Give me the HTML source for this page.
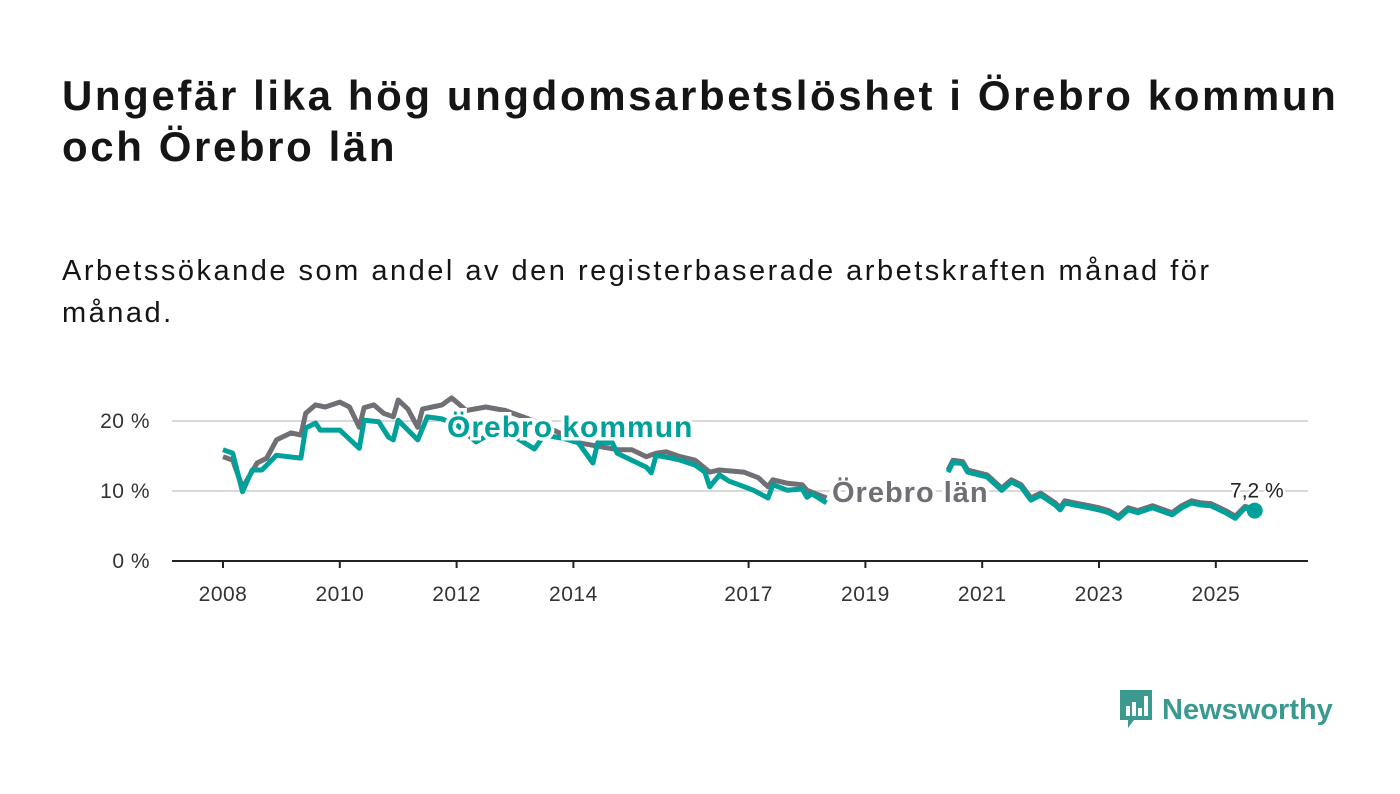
<!DOCTYPE html>
<html><head><meta charset="utf-8"><style>
body{margin:0;background:#fff;width:1400px;height:794px;overflow:hidden;font-family:"Liberation Sans",sans-serif}
.t{position:absolute;left:62px;top:70px;font-size:42px;letter-spacing:2.6px;font-weight:bold;color:#151515;line-height:51px;width:1320px}
.s{position:absolute;left:62px;top:250px;font-size:29px;letter-spacing:2.5px;color:#151515;line-height:42px;width:1240px}
</style></head><body>
<div class="t">Ungefär lika hög ungdomsarbetslöshet i Örebro kommun och Örebro län</div>
<div class="s">Arbetssökande som andel av den registerbaserade arbetskraften månad för månad.</div>
<svg id="c" width="1400" height="794" style="position:absolute;left:0;top:0"></svg>
<div style="position:absolute;left:1118px;top:688px;height:44px;display:flex;align-items:center">
<svg width="36" height="44"><path d="M2 2h32v30H16l-6 8v-8H2z" fill="#3a9a8f"/><rect x="8" y="18" width="4" height="10" fill="#fff"/><rect x="14" y="14" width="4" height="14" fill="#fff"/><rect x="20" y="20" width="4" height="8" fill="#fff"/><rect x="26" y="8" width="4" height="20" fill="#fff"/></svg>
<span style="font-size:29px;font-weight:bold;color:#3a9a8f;margin-left:8px">Newsworthy</span></div>
<script>
const yTicks=[0,10,20];
const yTickLabels=["0 %","10 %","20 %"];
const xTickYears=[2008,2010,2012,2014,2017,2019,2021,2023,2025];
const kommunMonths=[0,2,4,6,8,11,16,17,19,20,24,28,29,32,34,35,36,40,42,45,48,52,57,64,66,70,73,76,77,80,81,84,87,88,89,92,94,97,99,100,102,104,106,109,112,113,116,119,120,121,124,null,149,150,152,153,157,160,162,164,166,168,171,172,173,175,178,180,182,184,186,188,191,193,195,197,199,201,203,206,208,210,212];
const kommunValues=[15.9,15.4,9.9,13,13,15.1,14.7,19,19.7,18.7,18.7,16.1,20.1,19.9,17.7,17.3,20.1,17.3,20.6,20.3,19.5,17,19,16,18,17.5,16.9,14,16.9,16.9,15.4,14.4,13.4,12.6,15.1,14.7,14.4,13.7,12.7,10.6,12.3,11.4,10.9,10.1,9,10.9,10.1,10.3,9.1,9.6,8.3,null,12.7,14.1,13.9,12.7,12,10.1,11.3,10.6,8.7,9.4,8,7.3,8.3,8,7.6,7.3,6.9,6.1,7.3,6.9,7.6,7.1,6.6,7.6,8.3,8,7.9,6.9,6.1,7.6,7.2];
const lanMonths=[0,2,4,7,9,11,14,16,17,19,21,24,26,28,29,31,33,35,36,38,40,41,43,45,47,50,54,58,64,70,73,81,84,87,89,91,94,97,100,102,107,110,112,113,116,119,120,124,null,149,150,152,153,157,160,162,164,166,168,171,172,173,175,178,180,182,184,186,188,191,193,195,197,199,201,203,206,208,210,212];
const lanValues=[14.9,14.4,10.5,14,14.7,17.3,18.3,18,21.1,22.3,22,22.7,22,19.1,21.9,22.3,21.1,20.6,23,21.7,19.1,21.7,22,22.3,23.3,21.5,22,21.5,20,18,16.9,15.9,15.9,14.9,15.4,15.6,14.9,14.4,12.7,13,12.7,11.9,10.6,11.6,11.1,10.9,10.1,9,null,13,14.4,14.2,13,12.3,10.4,11.6,10.9,9,9.7,8.3,7.6,8.6,8.3,7.9,7.6,7.2,6.4,7.6,7.2,7.9,7.4,6.9,7.9,8.6,8.3,8.2,7.2,6.4,7.8,7.4];
const lastLabel="7,2 %";
const NS="http://www.w3.org/2000/svg",svg=document.getElementById('c');
const X=m=>223+m*58.4/12, Y=v=>561-v*7;
function mk(t,a,p){const e=document.createElementNS(NS,t);for(const k in a)e.setAttribute(k,a[k]);(p||svg).appendChild(e);return e;}
yTicks.forEach((v,i)=>{
 if(v>0){const g=mk('line',{x1:172,x2:1308,y1:Y(v),y2:Y(v),stroke:'#d9d9d9','stroke-width':2});
 
 }
 const t=mk('text',{x:150,y:Y(v)+7,'text-anchor':'end','font-size':21,fill:'#333','letter-spacing':0.5});t.textContent=yTickLabels[i];
 
 
});
const ax=mk('line',{x1:172,x2:1308,y1:561,y2:561,stroke:'#222','stroke-width':2});


xTickYears.forEach(yr=>{const x=X((yr-2008)*12);
 const tk=mk('line',{x1:x,x2:x,y1:561,y2:568,stroke:'#222','stroke-width':2});
 
 
 const t=mk('text',{x:x,y:601,'text-anchor':'middle','font-size':21,fill:'#333','letter-spacing':0.5});t.textContent=yr;
 
 });
function path(ms,vs){let d='',pen=false;ms.forEach((m,i)=>{if(m===null||vs[i]===null){pen=false;return;}d+=(pen?'L':'M')+X(m).toFixed(1)+' '+Y(vs[i]).toFixed(1);pen=true;});return d;}
const l1=mk('path',{d:path(lanMonths,lanValues),fill:'none',stroke:'#706f75','stroke-width':5,'stroke-linejoin':'round'});


const l2=mk('path',{d:path(kommunMonths,kommunValues),fill:'none',stroke:'#00a19a','stroke-width':5,'stroke-linejoin':'round'});


const lm=kommunMonths[kommunMonths.length-1],lv=kommunValues[kommunValues.length-1];
const dot=mk('circle',{cx:X(lm),cy:Y(lv),r:8,fill:'#00a19a'});


const lt=mk('text',{x:X(lm)+29,y:Y(lv)-13,'text-anchor':'end','font-size':21,fill:'#222',stroke:'#fff','stroke-width':5,'paint-order':'stroke'});lt.textContent=lastLabel;


const a=mk('text',{x:447,y:437,'font-size':30,'font-weight':'bold','letter-spacing':1,fill:'#00a19a',stroke:'#fff','stroke-width':7,'paint-order':'stroke'});a.textContent='Örebro kommun';


const b=mk('text',{x:832,y:502,'font-size':29,'font-weight':'bold','letter-spacing':1,fill:'#706f75',stroke:'#fff','stroke-width':7,'paint-order':'stroke'});b.textContent='Örebro län';


</script>
</body></html>
